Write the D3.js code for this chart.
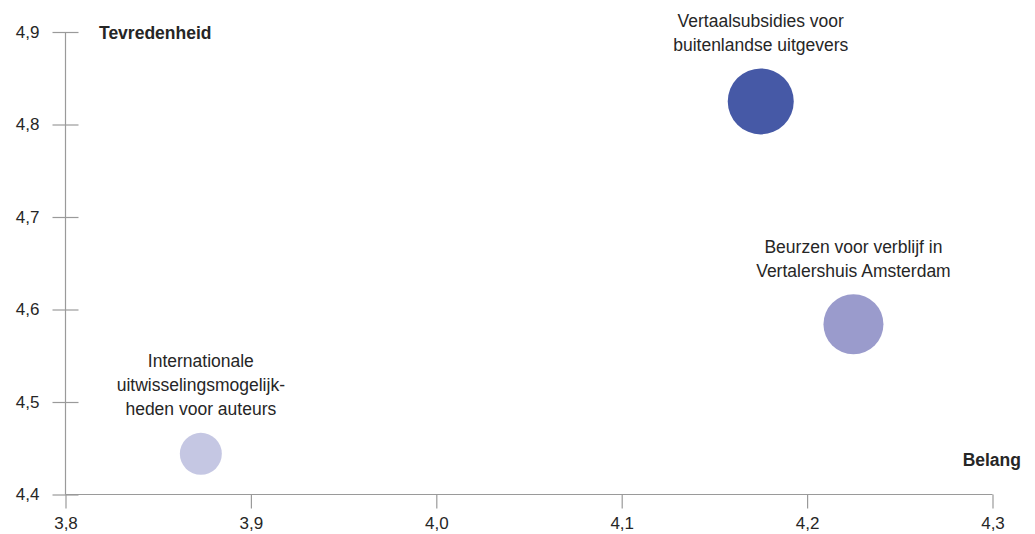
<!DOCTYPE html>
<html>
<head>
<meta charset="utf-8">
<script src="https://cdn.jsdelivr.net/npm/d3@7"></script>
<style>
  html, body { margin: 0; padding: 0; background: #fff; }
  svg { display: block; font-family: "Liberation Sans", Arial, Helvetica, sans-serif; }
</style>
</head>
<body>
<svg id="chart" width="1035" height="534"></svg>
<script>
// Regelingen: belang (x) tegenover tevredenheid (y)
const names = [
  ["Vertaalsubsidies voor", "buitenlandse uitgevers"],
  ["Beurzen voor verblijf in", "Vertalershuis Amsterdam"],
  ["Internationale", "uitwisselingsmogelijk-", "heden voor auteurs"]
];
const belang = [4.175, 4.225, 3.873];
const tevredenheid = [4.825, 4.584, 4.444];
const size = [33, 30, 21];
const colors = ["#4659a6", "#9a9bcc", "#c5c7e3"];

const xTicks = [3.8, 3.9, 4.0, 4.1, 4.2, 4.3];
const yTicks = [4.4, 4.5, 4.6, 4.7, 4.8, 4.9];
const fmt = d => d3.format(".1f")(d).replace(".", ",");

const svg = d3.select("#chart");
const x = d3.scaleLinear().domain([3.8, 4.3]).range([65.5, 992.5]);
const y = d3.scaleLinear().domain([4.4, 4.9]).range([494.5, 32]);

const axisColor = "#9a9a9a";
const textColor = "#262626";

// x-as
const gx = svg.append("g").attr("transform", `translate(0,${y(4.4)})`)
  .call(d3.axisBottom(x).tickValues(xTicks).tickFormat(fmt).tickSize(14).tickPadding(8));
// y-as
const gy = svg.append("g").attr("transform", `translate(${x(3.8)},0)`)
  .call(d3.axisLeft(y).tickValues(yTicks).tickFormat(fmt).tickSize(13).tickPadding(13));
gy.selectAll(".tick line").attr("x2", 13).attr("x1", -13);

[gx, gy].forEach(g => {
  g.select(".domain").attr("stroke", axisColor).attr("stroke-width", 1.2);
  g.selectAll(".tick line").attr("stroke", axisColor).attr("stroke-width", 1.2);
  g.selectAll(".tick text").attr("fill", textColor).attr("font-size", 17)
    .attr("font-family", "Liberation Sans, Arial, sans-serif");
});
gx.select(".domain").attr("d", `M${x(3.8)},0H${x(4.3)}`);
gy.select(".domain").attr("d", `M0,${y(4.4)}V${y(4.9)}`);

// astitels
svg.append("text").attr("x", 99).attr("y", 39)
  .attr("font-size", 17.5).attr("font-weight", "bold").attr("fill", textColor)
  .text("Tevredenheid");
svg.append("text").attr("x", 1021).attr("y", 466).attr("text-anchor", "end")
  .attr("font-size", 17.5).attr("font-weight", "bold").attr("fill", textColor)
  .text("Belang");

// bellen
const data = names.map((n, i) => ({ name: n, x: belang[i], y: tevredenheid[i], r: size[i], c: colors[i] }));
svg.append("g").selectAll("circle").data(data).join("circle")
  .attr("cx", d => x(d.x)).attr("cy", d => y(d.y)).attr("r", d => d.r)
  .attr("fill", d => d.c);

// labels boven de bellen
const lh = 24;
svg.append("g").selectAll("text").data(data).join("text")
  .attr("text-anchor", "middle").attr("font-size", 17.5).attr("fill", textColor)
  .each(function(d) {
    const t = d3.select(this);
    const n = d.name.length;
    const base = y(d.y) - d.r - 17.5 - (n - 1) * lh;
    d.name.forEach((line, k) => {
      t.append("tspan").attr("x", x(d.x)).attr("y", base + k * lh).text(line);
    });
  });
</script>
</body>
</html>
